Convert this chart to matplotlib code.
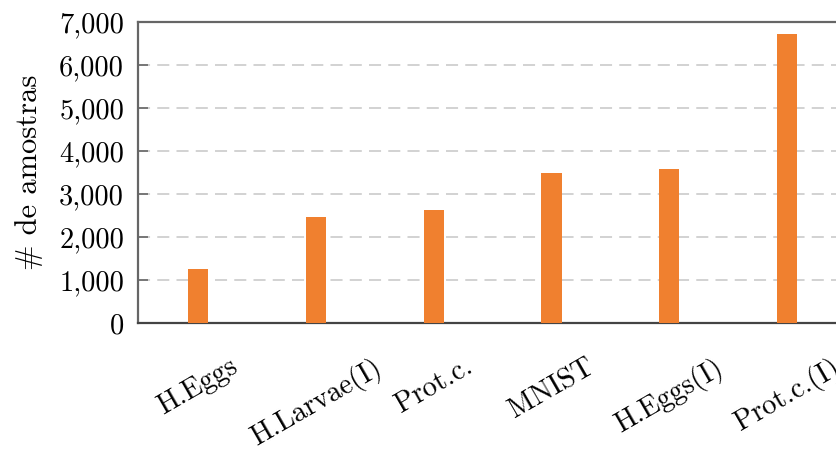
import matplotlib
matplotlib.use("Agg")
import matplotlib.pyplot as plt
from matplotlib.ticker import FuncFormatter

# Dataset sizes
datasets = ["H.Eggs", "H.Larvae(I)", "Prot.c.", "MNIST", "H.Eggs(I)", "Prot.c.(I)"]
samples = [1250, 2470, 2630, 3500, 3590, 6710]
y_ticks = [0, 1000, 2000, 3000, 4000, 5000, 6000, 7000]

plt.rcParams["font.family"] = ["cmr10", "DejaVu Serif"]
plt.rcParams["axes.formatter.use_mathtext"] = True

W, H, DPI = 837, 451, 100
fig = plt.figure(figsize=(W / DPI, H / DPI), dpi=DPI)

# axes box in pixels: left 138, right 846, top 22, bottom 323
left, right, top, bottom = 138, 846, 22, 323
ax = fig.add_axes([left / W, 1 - bottom / H, (right - left) / W, (bottom - top) / H])

bar_color = "#F0802F"
x = list(range(len(datasets)))
ax.bar(x, samples, width=0.17, color=bar_color, zorder=3)

ax.set_xlim(-0.51, len(datasets) - 0.5)
ax.set_ylim(y_ticks[0], y_ticks[-1])
ax.set_yticks(y_ticks)
ax.yaxis.set_major_formatter(FuncFormatter(lambda v, p: f"{v:,.0f}"))

ax.set_xticks(x)
ax.set_xticklabels(datasets, rotation=30, ha="center", va="top")

# dashed horizontal grid
for yv in y_ticks[1:-1]:
    ax.axhline(yv, color="#d2d2d2", lw=1.4, ls=(0, (6.2, 3.7)), zorder=1)

for s in ax.spines.values():
    s.set_color("#666666")
    s.set_linewidth(1.6)
ax.spines["bottom"].set_color("#444444")

ax.tick_params(axis="y", which="both", direction="in", length=7, width=1.4,
               color="#777777", left=True, right=True, labelsize=20.5, pad=10)
ax.tick_params(axis="x", length=0, labelsize=20.5, pad=22)

ax.set_ylabel("# de amostras", fontsize=22)
ax.yaxis.set_label_coords((43 - left) / (right - left), 0.5)

fig.savefig("out.png", dpi=DPI)
